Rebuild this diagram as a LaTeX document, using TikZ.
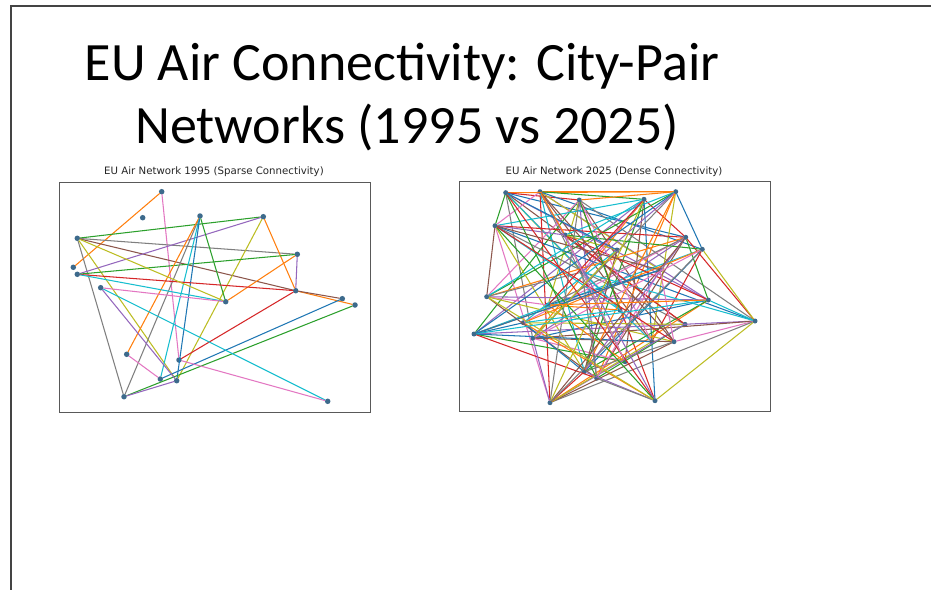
\documentclass[tikz,border=0pt]{standalone}
\usepackage{fontspec}
\setmainfont{Carlito}
\newfontfamily\plotfont{DejaVu Sans}
\definecolor{c0}{HTML}{1F77B4}
\definecolor{c1}{HTML}{FF7F0E}
\definecolor{c2}{HTML}{2CA02C}
\definecolor{c3}{HTML}{D62728}
\definecolor{c4}{HTML}{9467BD}
\definecolor{c5}{HTML}{8C564B}
\definecolor{c6}{HTML}{E377C2}
\definecolor{c7}{HTML}{7F7F7F}
\definecolor{c8}{HTML}{BCBD22}
\definecolor{c9}{HTML}{17BECF}
\definecolor{nodeblue}{HTML}{3D6A8C}
\definecolor{border}{HTML}{444444}
\begin{document}
\begin{tikzpicture}[x=1pt,y=-1pt,
  city/.style={circle, fill=nodeblue, inner sep=0pt, minimum size=5pt},
  edge/.style={line width=1.05pt, line cap=round},
  frame/.style={draw=black!65, line width=0.9pt},
  subtitle/.style={font=\plotfont\fontsize{10.2}{12}\selectfont, text=black!85, inner sep=0pt},
  titletext/.style={font=\fontsize{54}{64}\selectfont, inner sep=0pt, anchor=base}]
\useasboundingbox (0,0) rectangle (931,590);
\fill[white] (0,0) rectangle (931,590);
\draw[border, line width=1.3pt] (931,6) -- (11,6) -- (11,590);

% title
\node[titletext] (t1) at (402,80) {EU Air Connectivity: City-Pair};
\node[titletext] (t2) at (407,143) {Networks (1995 vs 2025)};

% ---------- 1995 plot ----------
\node[subtitle] (s1) at (214,172) {EU Air Network 1995 (Sparse Connectivity)};
\draw[frame] (59.5,182) rectangle (370,412);
\foreach \n/\x/\y in {A/161.7/191.7, B/142.7/217.7, C/200/216, D/263.3/216.7,
  E/77.3/238.3, F/297.3/254.3, G/73.3/267.3, H/77.3/274.3, I/100.7/287.7,
  J/295.7/290.7, K/225.7/301.7, L/342.3/298.7, M/355/305, N/126.7/354.3,
  O/179/360, P/160.3/379, Q/176.7/380.7, R/124/396.7, S/327.7/401.3}
  \node[city, minimum size=5.5pt] (o\n) at (\x,\y) {};
\foreach \a/\b/\c in {A/G/c1, A/O/c6, E/D/c2, E/F/c7, E/J/c5, E/R/c7, E/Q/c8,
  D/H/c4, D/Q/c8, D/J/c1, F/J/c4, F/H/c2, F/K/c1, C/K/c2, C/R/c7, C/N/c1,
  C/P/c9, C/Q/c0, H/J/c3, H/K/c9, E/K/c8, J/M/c1, J/O/c3, L/P/c0, M/R/c2,
  I/S/c9, I/K/c6, I/Q/c4, N/P/c6, O/S/c6, R/Q/c4, L/J/c5}
  \draw[edge, \c] (o\a) -- (o\b);

% ---------- 2025 plot ----------
\node[subtitle] (s2) at (614,172) {EU Air Network 2025 (Dense Connectivity)};
\draw[frame] (459,181.5) rectangle (770,411);
\foreach \n/\x/\y in {1/505.7/192.7, 2/540/191.7, 3/579.3/200, 4/644/199.3,
  5/675.7/191.7, 6/495/225.7, 7/685.7/237.3, 8/702.3/249.3, 9/486.7/296.7,
  10/708.3/300, 11/755/321, 12/474/334, 13/532.7/338.3, 14/523.3/322.7,
  15/685/324.3, 16/674/341.7, 17/651.7/341.7, 18/625/361.7, 19/584.3/371.7,
  20/596.7/378.3, 21/550/402.7, 22/655/400.7, 23/565/235, 24/582/272,
  25/660/270, 26/548/305, 27/617/250, 28/620/310}
  \node[city] (n\n) at (\x,\y) {};
\foreach [count=\i] \a/\b in {1/5,1/6,1/3,1/10,1/15,1/17,1/13,1/24,1/28,1/7,
  2/5,2/4,2/21,2/10,2/17,2/6,2/18,2/25,2/19,2/8,
  3/5,3/12,3/22,3/20,3/16,3/9,3/11,3/26,
  4/6,4/22,4/13,4/19,4/7,4/12,4/18,4/24,
  5/13,5/17,5/23,5/8,5/20,5/9,
  6/7,6/23,6/9,6/21,6/15,6/19,6/28,6/11,
  7/9,7/10,7/11,7/13,7/20,7/14,7/26,
  8/11,8/12,8/19,8/14,8/23,8/17,
  9/10,9/20,9/26,9/24,9/16,
  10/11,10/13,10/21,10/19,10/23,
  11/12,11/13,11/16,11/21,11/22,11/24,
  12/14,12/25,12/18,12/20,
  13/21,13/16,13/18,13/27,
  14/15,14/27,14/19,14/22,
  15/20,15/23,15/21,
  16/21,16/25,16/19,
  17/21,17/24,17/12,
  18/26,18/23,
  19/21,19/22,19/27,
  20/25,20/22,
  23/27,24/28,25/26,26/28,
  1/20,1/22,2/22,2/16,3/17,3/21,4/21,4/9,5/12,5/19,6/22,6/16,7/19,7/21,
  8/13,8/21,9/22,10/12,1/27,2/23,3/28,4/26,5/24,6/25,23/18,24/20,27/13,
  28/14,25/12,26/10}
  {\pgfmathtruncatemacro\ci{mod(\i,10)}
   \draw[edge, c\ci] (n\a) -- (n\b);}
\end{tikzpicture}
\end{document}
